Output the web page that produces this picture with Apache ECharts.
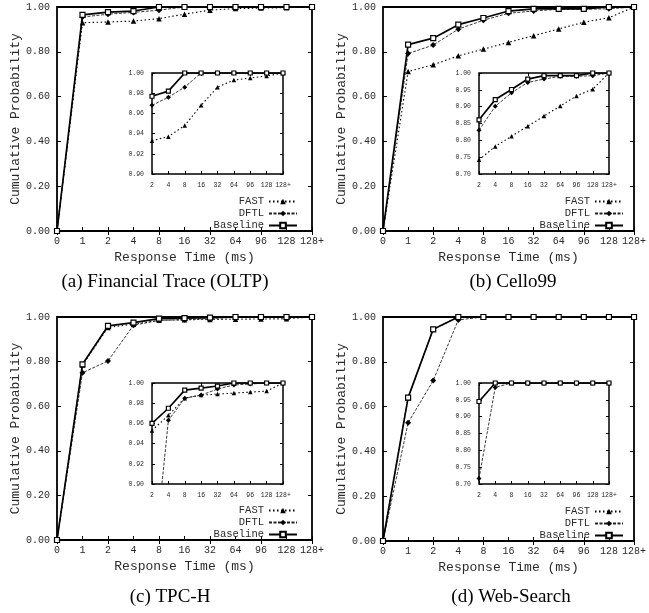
<!DOCTYPE html>
<html>
<head>
<meta charset="utf-8">
<script src="https://cdn.jsdelivr.net/npm/echarts@6/dist/echarts.min.js"></script>
<style>
html,body{margin:0;padding:0;background:#fff;}
#chart{width:649px;height:613px;}
</style>
</head>
<body>
<div id="chart"></div>
<script>
// ---- data ----
const mainCats = ['0', '1', '2', '4', '8', '16', '32', '64', '96', '128', '128+'];
const insetCats = ['2', '4', '8', '16', '32', '64', '96', '128', '128+'];
const seriesNames = ['FAST', 'DFTL', 'Baseline'];
const captions = ['(a) Financial Trace (OLTP)', '(b) Cello99', '(c) TPC-H', '(d) Web-Search'];
const xAxisTitle = 'Response Time (ms)';
const yAxisTitle = 'Cumulative Probability';

// (a) Financial Trace (OLTP)
const fastA = [0, 0.930, 0.933, 0.937, 0.948, 0.968, 0.986, 0.993, 0.995, 0.997, 1.000];
const dftlA = [0, 0.955, 0.968, 0.976, 0.986, 1.000, 1.000, 1.000, 1.000, 1.000, 1.000];
const baseA = [0, 0.965, 0.977, 0.982, 1.000, 1.000, 1.000, 1.000, 1.000, 1.000, 1.000];
// (b) Cello99
const fastB = [0, 0.712, 0.742, 0.782, 0.812, 0.842, 0.872, 0.902, 0.932, 0.952, 1.000];
const dftlB = [0, 0.792, 0.830, 0.901, 0.941, 0.972, 0.982, 0.990, 0.990, 0.992, 1.000];
const baseB = [0, 0.832, 0.861, 0.921, 0.951, 0.982, 0.992, 0.992, 0.992, 1.000, 1.000];
// (c) TPC-H
const fastC = [0, 0.785, 0.953, 0.968, 0.985, 0.988, 0.989, 0.990, 0.991, 0.992, 1.000];
const dftlC = [0, 0.750, 0.803, 0.963, 0.985, 0.988, 0.994, 0.998, 0.999, 1.000, 1.000];
const baseC = [0, 0.788, 0.960, 0.975, 0.993, 0.995, 0.997, 1.000, 1.000, 1.000, 1.000];
// (d) Web-Search
const fastD = [0, 0.640, 0.945, 1.000, 1.000, 1.000, 1.000, 1.000, 1.000, 1.000, 1.000];
const dftlD = [0, 0.528, 0.716, 0.987, 1.000, 1.000, 1.000, 1.000, 1.000, 1.000, 1.000];
const baseD = [0, 0.640, 0.945, 1.000, 1.000, 1.000, 1.000, 1.000, 1.000, 1.000, 1.000];

const mainYTicks = {min: 0, max: 1, interval: 0.2};
const insetYMin = [0.90, 0.70, 0.90, 0.70];
const insetYStep = [0.02, 0.05, 0.02, 0.05];

const panelData = [
  [fastA, dftlA, baseA],
  [fastB, dftlB, baseB],
  [fastC, dftlC, baseC],
  [fastD, dftlD, baseD]
];

// ---- layout ----
const mainBoxes = [
  {left: 57, top: 7, width: 255, height: 224},
  {left: 383, top: 7, width: 254, height: 224},
  {left: 57, top: 317, width: 255, height: 223},
  {left: 383, top: 317, width: 254, height: 224}
];
const insetBoxes = [
  {left: 152, top: 73, width: 131, height: 101},
  {left: 479, top: 73, width: 130, height: 101},
  {left: 152, top: 383, width: 131, height: 101},
  {left: 479, top: 383, width: 130, height: 101}
];
const legendPos = [
  {right: 351, top: 196},
  {right: 25, top: 196},
  {right: 351, top: 505},
  {right: 25, top: 506}
];
const captionPos = [[165, 282], [513, 282], [170, 597], [511, 597]];

const MONO = '"Liberation Mono", "DejaVu Sans Mono", monospace';
const SERIF = '"Liberation Serif", "DejaVu Serif", serif';
const TXT = '#2a2a2a';

const grids = [], xAxes = [], yAxes = [], series = [], legends = [], graphics = [];

function addGrid(box, isInset) {
  const g = grids.length;
  grids.push(Object.assign({
    show: true, borderColor: '#000', borderWidth: isInset ? 1.5 : 1.8,
    backgroundColor: '#fff', containLabel: false, z: isInset ? 5 : 0
  }, box));
  return g;
}

function axesFor(g, cats, yMin, yMax, yStep, isInset, withNames) {
  const fs = isInset ? 6.5 : 10;
  const tl = isInset ? 3 : 4;
  const xi = xAxes.length;
  xAxes.push({
    type: 'category', gridIndex: g, data: cats, boundaryGap: false, position: 'bottom',
    axisLine: {show: false},
    axisTick: {show: true, inside: true, length: tl, lineStyle: {color: '#000'}},
    axisLabel: {interval: 0, fontFamily: MONO, fontSize: fs, color: TXT, margin: isInset ? 8 : 5, hideOverlap: false},
    splitLine: {show: false},
    name: withNames ? xAxisTitle : '', nameLocation: 'middle', nameGap: 20,
    nameTextStyle: {fontFamily: MONO, fontSize: 13, color: TXT},
    z: isInset ? 6 : 1
  });
  xAxes.push({
    type: 'category', gridIndex: g, data: cats, boundaryGap: false, position: 'top',
    axisLine: {show: false},
    axisTick: {show: true, inside: true, length: tl, lineStyle: {color: '#000'}},
    axisLabel: {show: false}, splitLine: {show: false}, z: isInset ? 6 : 1
  });
  const yi = yAxes.length;
  yAxes.push({
    type: 'value', gridIndex: g, min: yMin, max: yMax, interval: yStep, position: 'left',
    axisLine: {show: false},
    axisTick: {show: true, inside: true, length: tl, lineStyle: {color: '#000'}},
    axisLabel: {fontFamily: MONO, fontSize: fs, color: TXT, margin: isInset ? 8 : 7,
      formatter: v => v.toFixed(2)},
    splitLine: {show: false},
    name: withNames ? yAxisTitle : '', nameLocation: 'middle', nameGap: 35,
    nameTextStyle: {fontFamily: MONO, fontSize: 13, color: TXT},
    z: isInset ? 6 : 1
  });
  yAxes.push({
    type: 'value', gridIndex: g, min: yMin, max: yMax, interval: yStep, position: 'right',
    axisLine: {show: false},
    axisTick: {show: true, inside: true, length: tl, lineStyle: {color: '#000'}},
    axisLabel: {show: false}, splitLine: {show: false}, z: isInset ? 6 : 1
  });
  return [xi, yi];
}

function styleFor(name, isInset) {
  const s = isInset ? 4.5 : 5.5;
  if (name === 'FAST') {
    return {symbol: 'triangle', symbolSize: s,
      itemStyle: {color: '#000'},
      lineStyle: {color: '#000', width: 1.1, type: [1.5, 2.5]}};
  }
  if (name === 'DFTL') {
    return {symbol: 'diamond', symbolSize: s + 0.5,
      itemStyle: {color: '#000'},
      lineStyle: {color: '#222', width: 0.9, type: [3, 1.5]}};
  }
  return {symbol: 'rect', symbolSize: s - 0.5,
    itemStyle: {color: '#fff', borderColor: '#000', borderWidth: 1.2},
    lineStyle: {color: '#000', width: 1.7, type: 'solid'}};
}

for (let p = 0; p < 4; p++) {
  const gm = addGrid(mainBoxes[p], false);
  const [mx, my] = axesFor(gm, mainCats, mainYTicks.min, mainYTicks.max, mainYTicks.interval, false, true);
  const gi = addGrid(insetBoxes[p], true);
  const [ix, iy] = axesFor(gi, insetCats, insetYMin[p], 1.0, insetYStep[p], true, false);
  const order = [2, 1, 0];
  order.forEach(k => {
    const name = seriesNames[k];
    const arr = panelData[p][k];
    series.push(Object.assign({
      type: 'line', name: name, xAxisIndex: mx, yAxisIndex: my, data: arr,
      showSymbol: true, showAllSymbol: true, clip: true, z: 3 + k, animation: false
    }, styleFor(name, false)));
    series.push(Object.assign({
      type: 'line', name: name, xAxisIndex: ix, yAxisIndex: iy, data: arr.slice(2),
      showSymbol: true, showAllSymbol: true, clip: true, z: 10 + k, animation: false
    }, styleFor(name, true)));
  });
  legends.push(Object.assign({
    orient: 'vertical', align: 'right', itemWidth: 28, itemHeight: 7, itemGap: 1,
    data: seriesNames, selectedMode: false,
    textStyle: {fontFamily: MONO, fontSize: 10.5, color: TXT, lineHeight: 10, padding: [0, 0, 0, 0]},
    padding: 0
  }, legendPos[p]));
  graphics.push({
    type: 'text', x: captionPos[p][0], y: captionPos[p][1],
    style: {text: captions[p], font: '19px ' + SERIF, fill: '#000', textAlign: 'center', textVerticalAlign: 'middle'}
  });
}

const chart = echarts.init(document.getElementById('chart'), null, {renderer: 'canvas'});
chart.setOption({
  animation: false,
  backgroundColor: '#fff',
  grid: grids,
  xAxis: xAxes,
  yAxis: yAxes,
  legend: legends,
  series: series,
  graphic: graphics
});
</script>
</body>
</html>
